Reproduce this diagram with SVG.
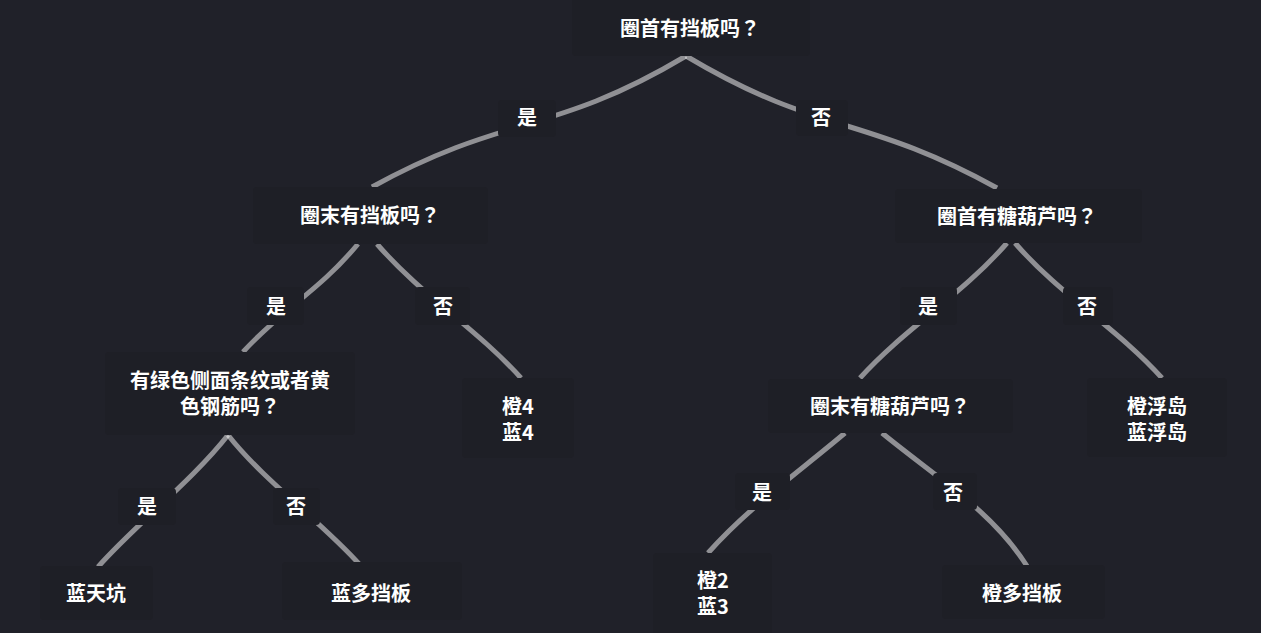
<svg xmlns="http://www.w3.org/2000/svg" width="1261" height="633" viewBox="0 0 1261 633">
<style>
.bg{fill:#202129}
.box{fill:#1e1f26}
.lbox{fill:#1e1f26}
.link{fill:none;stroke:#ffffff;stroke-opacity:0.5;stroke-width:5}
.t{fill:#ffffff;font-family:"Noto Sans CJK SC","Liberation Sans",sans-serif;font-size:20px;font-weight:700;text-anchor:middle}
.q{font-family:"Noto Sans CJK JP","Noto Sans CJK SC",sans-serif}
</style>
<rect class="bg" x="0" y="0" width="1261" height="633"/>
<g id="connectors">
<path class="link" d="M686,56 C552,136 506,113 372,187"/>
<path class="link" d="M686,56 C820,136 863,114 997,188"/>
<path class="link" d="M358,244 C318,292 283,308 243,352"/>
<path class="link" d="M377,244 C422,296 476,328 521,378"/>
<path class="link" d="M1007,243 C962,295 905,328 860,378"/>
<path class="link" d="M1015,243 C1060,295 1117,328 1162,378"/>
<path class="link" d="M228,435 C193,480 133,527 98,567"/>
<path class="link" d="M228,435 C263,480 325,525 360,565"/>
<path class="link" d="M845,433 C795,475 748,508 708,553"/>
<path class="link" d="M882,433 C937,478 992,511 1027,566"/>
<g id="edge-labels">
<rect class="lbox" x="498" y="100" width="58" height="37" rx="4"/><text class="t" x="527" y="125">是</text>
<rect class="lbox" x="796" y="100" width="52" height="36" rx="4"/><text class="t" x="821" y="125">否</text>
<rect class="lbox" x="247" y="287" width="57" height="38" rx="4"/><text class="t" x="276" y="314">是</text>
<rect class="lbox" x="415" y="287" width="55" height="38" rx="4"/><text class="t" x="443" y="314">否</text>
<rect class="lbox" x="900" y="287" width="57" height="38" rx="4"/><text class="t" x="928" y="314">是</text>
<rect class="lbox" x="1063" y="287" width="50" height="38" rx="4"/><text class="t" x="1087" y="314">否</text>
<rect class="lbox" x="118" y="488" width="58" height="37" rx="4"/><text class="t" x="147" y="514">是</text>
<rect class="lbox" x="273" y="488" width="47" height="37" rx="4"/><text class="t" x="296" y="514">否</text>
<rect class="lbox" x="735" y="473" width="55" height="37" rx="4"/><text class="t" x="762" y="500">是</text>
<rect class="lbox" x="933" y="473" width="44" height="37" rx="4"/><text class="t" x="953" y="500">否</text>
</g>
</g>
<g id="n-root">
<rect class="box" x="572" y="-6" width="238" height="62" rx="4"/>
<text class="t" x="690" y="36">圈首有挡板吗<tspan class="q">？</tspan></text>
</g>
<g id="n-q-end-board">
<rect class="box" x="253" y="187" width="235" height="57" rx="4"/>
<text class="t" x="370" y="223">圈末有挡板吗<tspan class="q">？</tspan></text>
</g>
<g id="n-q-head-gourd">
<rect class="box" x="895" y="189" width="247" height="54" rx="4"/>
<text class="t" x="1017" y="224">圈首有糖葫芦吗<tspan class="q">？</tspan></text>
</g>
<g id="n-q-stripe">
<rect class="box" x="105" y="352" width="250" height="83" rx="4"/>
<text class="t" x="230" y="388">有绿色侧面条纹或者黄<tspan x="230" dy="26">色钢筋吗</tspan><tspan class="q">？</tspan></text>
</g>
<g id="n-orange4-blue4">
<rect class="box" x="462" y="378" width="112" height="80" rx="4"/>
<text class="t" x="518" y="414">橙4<tspan x="518" dy="26">蓝4</tspan></text>
</g>
<g id="n-q-end-gourd">
<rect class="box" x="768" y="379" width="245" height="54" rx="4"/>
<text class="t" x="890" y="414">圈末有糖葫芦吗<tspan class="q">？</tspan></text>
</g>
<g id="n-float-island">
<rect class="box" x="1087" y="378" width="140" height="79" rx="4"/>
<text class="t" x="1157" y="414">橙浮岛<tspan x="1157" dy="26">蓝浮岛</tspan></text>
</g>
<g id="n-blue-sky-pit">
<rect class="box" x="40" y="566" width="113" height="54" rx="4"/>
<text class="t" x="96" y="601">蓝天坑</text>
</g>
<g id="n-blue-multi-board">
<rect class="box" x="282" y="562" width="180" height="58" rx="4"/>
<text class="t" x="371" y="601">蓝多挡板</text>
</g>
<g id="n-orange2-blue3">
<rect class="box" x="653" y="553" width="119" height="86" rx="4"/>
<text class="t" x="713" y="588">橙2<tspan x="713" dy="26">蓝3</tspan></text>
</g>
<g id="n-orange-multi-board">
<rect class="box" x="942" y="565" width="163" height="54" rx="4"/>
<text class="t" x="1022" y="601">橙多挡板</text>
</g>
</svg>
